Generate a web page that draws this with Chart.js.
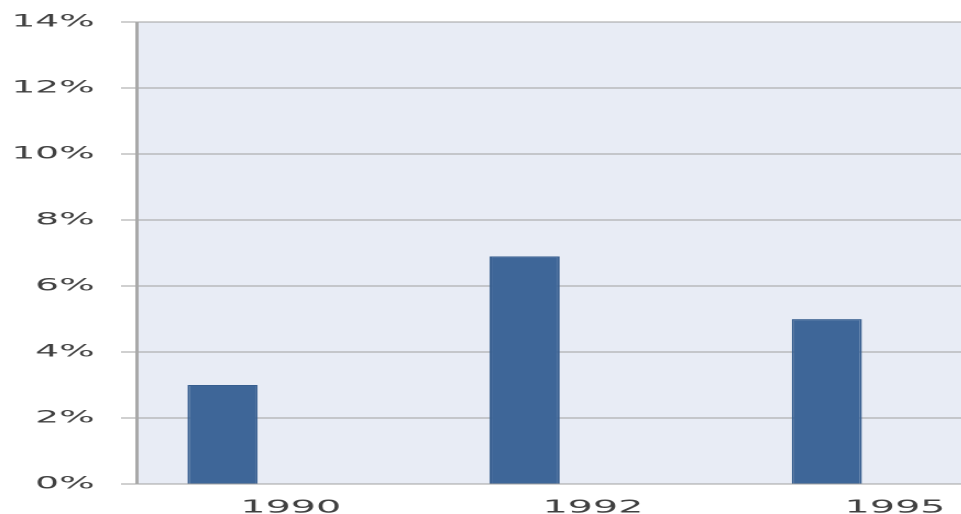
<!DOCTYPE html>
<html>
<head>
<meta charset="utf-8">
<script src="https://cdn.jsdelivr.net/npm/chart.js@4.4.1/dist/chart.umd.min.js"></script>
<style>
  html, body { margin: 0; padding: 0; background: #fff; overflow: hidden; }
  /* el gráfico original está estirado en horizontal */
  #wrap { width: 474px; height: 514px; transform: scaleX(2.2); transform-origin: 0 0; }
</style>
</head>
<body>
<div id="wrap"><canvas id="chart"></canvas></div>
<script>
// Datos
const years = ['1990', '1992', '1995'];
const shares = [3.0, 6.9, 5.0];
const emptySeries = [null, null, null];
const yTicks = [0, 2, 4, 6, 8, 10, 12, 14];

// Fondo del área de trazado
const plotBackground = {
  id: 'plotBackground',
  beforeDraw(chart) {
    const { ctx, chartArea: a } = chart;
    ctx.save();
    ctx.fillStyle = '#e8ecf5';
    ctx.fillRect(a.left, a.top, a.right - a.left, a.bottom - a.top);
    ctx.restore();
  }
};

const family = '"DejaVu Sans", Verdana, sans-serif';

new Chart(document.getElementById('chart'), {
  type: 'bar',
  data: {
    labels: years,
    datasets: [{
      label: 'share',
      data: shares,
      backgroundColor: '#3e6698',
      borderColor: '#375e8f',
      borderWidth: 1,
      categoryPercentage: 0.86,
      barPercentage: 0.54
    }, {
      label: '',
      data: emptySeries,
      categoryPercentage: 0.86,
      barPercentage: 0.54
    }]
  },
  options: {
    responsive: true,
    maintainAspectRatio: false,
    animation: false,
    devicePixelRatio: 2,
    layout: { padding: { left: 0, top: 12, right: 0, bottom: 0 } },
    plugins: {
      legend: { display: false },
      tooltip: { enabled: false }
    },
    scales: {
      x: {
        afterFit(scale) { scale.height = 30; },
        grid: { display: false },
        border: { display: true, color: '#a0a0a0', width: 1 },
        ticks: {
          color: '#404040',
          font: { family: family, size: 18 },
          padding: 5,
          labelOffset: 1.5,
          maxRotation: 0
        }
      },
      y: {
        min: 0,
        max: 14,
        afterFit(scale) { scale.width = 62; },
        afterBuildTicks(scale) {
          scale.ticks = yTicks.map(v => ({ value: v }));
        },
        grid: { color: '#a0a0a0', lineWidth: 1, tickLength: 7 },
        border: { display: true, color: '#a8a8a8', width: 1.5 },
        ticks: {
          color: '#404040',
          font: { family: family, size: 17 },
          padding: 12,
          callback: v => v + '%'
        }
      }
    }
  },
  plugins: [plotBackground]
});
</script>
</body>
</html>
